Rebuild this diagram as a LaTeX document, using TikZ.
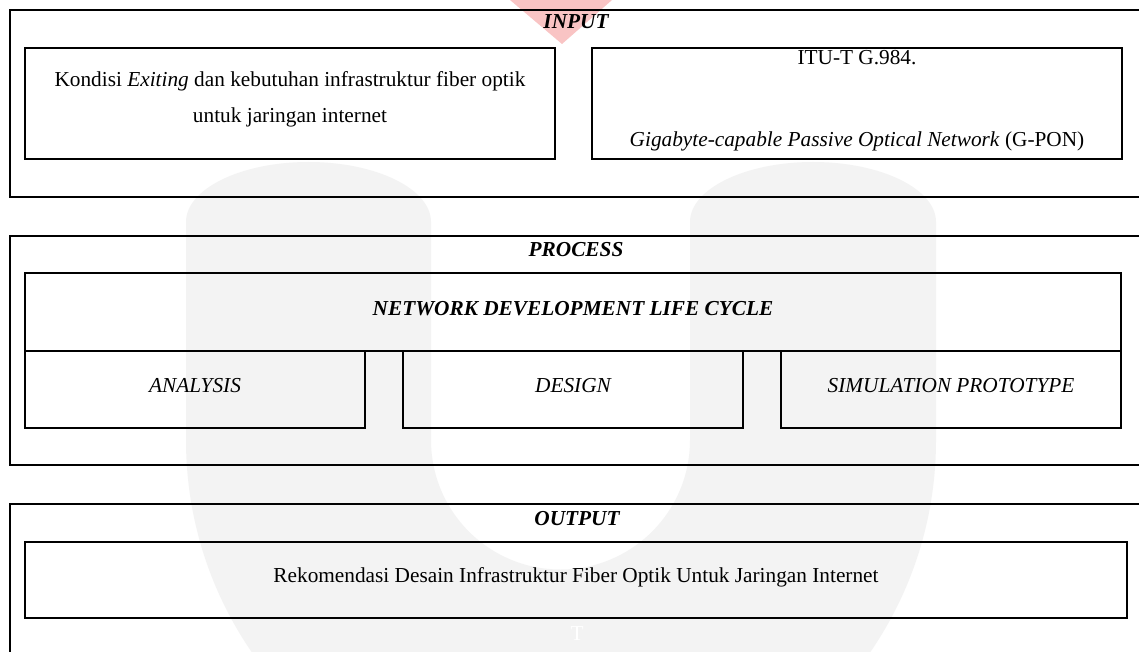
\documentclass[tikz,border=0pt]{standalone}
\usepackage{fontspec}
\setmainfont{Liberation Serif}
\begin{document}
\begin{tikzpicture}[x=1pt,y=1pt,
  box/.style={draw=black, line width=2pt, inner sep=0pt, outer sep=0pt},
  txt/.style={font=\fontsize{21.3}{25}\selectfont, inner sep=0pt, anchor=base},
  ttl/.style={txt, font=\fontsize{21.3}{25}\selectfont\bfseries\itshape},
  itx/.style={txt, font=\fontsize{21.3}{25}\selectfont\itshape}]
\definecolor{wmgrey}{RGB}{243,243,243}
\definecolor{wmred}{RGB}{249,196,196}
\useasboundingbox (0,0) rectangle (1139,-652);
\fill[white] (0,0) rectangle (1139,-652);
% watermark
\fill[wmgrey] (186,-440) -- (186,-222)
  arc[start angle=180, end angle=0, x radius=122.5, y radius=60]
  -- (431,-440) arc[start angle=180, end angle=360, radius=129.5]
  -- (690,-222) arc[start angle=180, end angle=0, x radius=123, y radius=60]
  -- (936,-440) arc[start angle=0, end angle=-180, radius=375] -- cycle;
\fill[wmred] (510,0) -- (612,0) -- (562,-44) -- cycle;
% INPUT
\node[box, minimum width=1140, minimum height=187] (inbox) at (580,-103.5) {};
\node[ttl] (inlbl) at (576,-29) {INPUT};
\node[box, minimum width=530, minimum height=111] (in1) at (290,-103.5) {};
\node[txt] (in1a) at (290,-87) {Kondisi \textit{Exiting} dan kebutuhan infrastruktur fiber optik};
\node[txt] (in1b) at (290,-123) {untuk jaringan internet};
\node[box, minimum width=530, minimum height=111] (in2) at (857,-103.5) {};
\node[txt] (in2a) at (857,-65) {ITU-T G.984.};
\node[txt] (in2b) at (857,-147) {\textit{Gigabyte-capable Passive Optical Network} (G-PON)};
% PROCESS
\node[box, minimum width=1140, minimum height=229] (prbox) at (580,-350.5) {};
\node[ttl] (prlbl) at (576,-256) {PROCESS};
\node[box, minimum width=1096, minimum height=78] (ndlc) at (573,-312) {};
\node[ttl] (ndlct) at (573,-315) {NETWORK DEVELOPMENT LIFE CYCLE};
\node[box, minimum width=340, minimum height=77] (ana) at (195,-389.5) {};
\node[itx] (anat) at (195,-392) {ANALYSIS};
\node[box, minimum width=340, minimum height=77] (des) at (573,-389.5) {};
\node[itx] (dest) at (573,-392) {DESIGN};
\node[box, minimum width=340, minimum height=77] (sim) at (951,-389.5) {};
\node[itx] (simt) at (951,-392) {SIMULATION PROTOTYPE};
% OUTPUT
\node[box, minimum width=1140, minimum height=220] (outbox) at (580,-614) {};
\node[ttl] (outlbl) at (577,-525) {OUTPUT};
\node[box, minimum width=1102, minimum height=76] (out1) at (576,-580) {};
\node[txt] (out1t) at (576,-582) {Rekomendasi Desain Infrastruktur Fiber Optik Untuk Jaringan Internet};
\node[txt, text=white] (wmt) at (577,-640) {T};
\end{tikzpicture}
\end{document}
